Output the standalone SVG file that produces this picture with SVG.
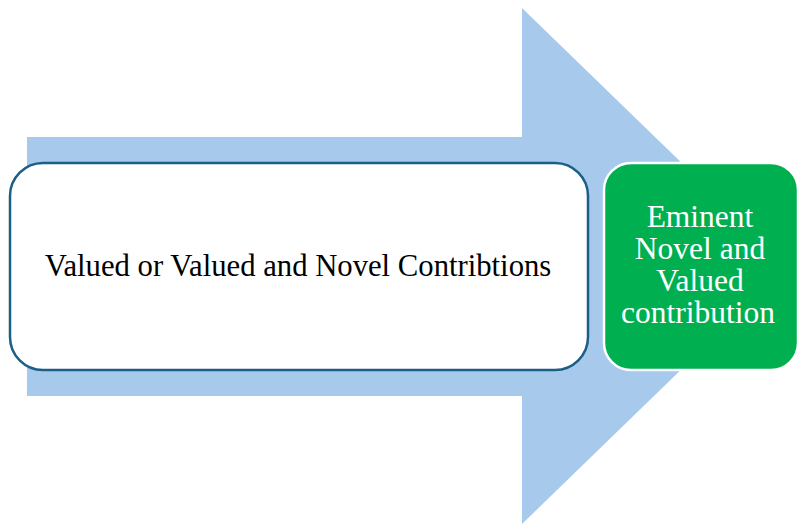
<svg xmlns="http://www.w3.org/2000/svg" width="800" height="529" viewBox="0 0 800 529">
<style>
.t{font-family:"Liberation Serif","Times New Roman",serif;font-size:30px;text-anchor:middle}
</style>
<rect width="800" height="529" fill="#ffffff"/>
<g id="arrow">
<path d="M27,137 H522 V8 L788,266 L522,524 V396 H27 Z" fill="#A7C9EB"/>
</g>
<g id="node-valued">
<rect x="10" y="163" width="578" height="207" rx="33" ry="33" fill="#ffffff" stroke="#1C5E86" stroke-width="2.5"/>
<text class="t" x="298" y="276" fill="#000000" style="font-size:30.7px">Valued or Valued and Novel Contribtions</text>
</g>
<g id="node-eminent">
<rect x="604" y="163" width="194" height="207" rx="27" ry="27" fill="#00B050" stroke="#ffffff" stroke-width="2.5"/>
<text class="t" fill="#ffffff" style="font-size:31.5px"><tspan x="700" y="227">Eminent</tspan><tspan x="700" y="259">Novel and</tspan><tspan x="700" y="291">Valued</tspan><tspan x="698" y="323">contribution</tspan></text>
</g>
<g id="connectors"/>
</svg>
